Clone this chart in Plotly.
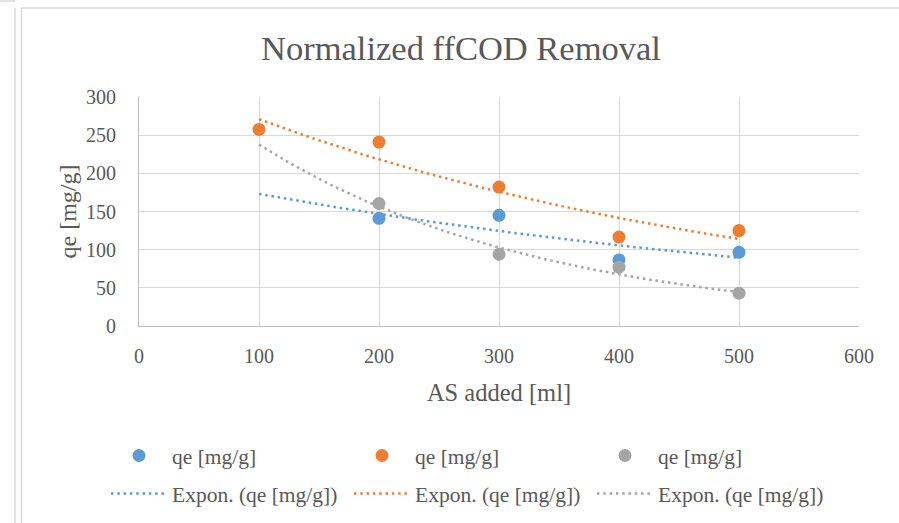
import numpy as np
import plotly.graph_objects as go

# ---- data ----
as_added = [100, 200, 300, 400, 500]
qe_blue = [None, 141, 145, 86.5, 96.5]
qe_orange = [257.5, 241, 182, 116.5, 125]
qe_gray = [None, 160.5, 94, 77, 43]

series_names = ["qe [mg/g]", "qe [mg/g]", "qe [mg/g]"]
trend_names = ["Expon. (qe [mg/g])", "Expon. (qe [mg/g])", "Expon. (qe [mg/g])"]
# exponential trendline equations y = a * exp(b * x)
trend_a = [204.0, 336.5, 361.5]
trend_b = [-0.0016476, -0.0021649, -0.004192]
trend_range = [100, 500]

x_ticks = [0, 100, 200, 300, 400, 500, 600]
y_ticks = [0, 50, 100, 150, 200, 250, 300]

colors = ["#5B9BD5", "#ED7D31", "#A5A5A5"]
FONT = "Liberation Serif"
TXT = "#595959"

W, H = 899, 523
L, R, T, B = 139, 40, 97, 197
PW, PH = W - L - R, H - T - B


def px_x(p):
    return (p - L) / PW


def px_y(p):
    return (H - B - p) / PH


fig = go.Figure()
for ys, c, n in zip([qe_blue, qe_orange, qe_gray], colors, series_names):
    fig.add_trace(go.Scatter(x=as_added, y=ys, mode="markers", name=n,
                             marker=dict(color=c, size=13),
                             legend="legend"))

xt = np.linspace(trend_range[0], trend_range[1], 81)
for a, b, c, n in zip(trend_a, trend_b, colors, trend_names):
    fig.add_trace(go.Scatter(x=xt, y=a * np.exp(b * xt), mode="lines", name=n,
                             line=dict(color=c, width=2.5, dash="2.5px,3.8px"),
                             legend="legend2", hoverinfo="skip"))

shapes = [
    dict(type="line", xref="paper", yref="paper", x0=px_x(21.5), x1=px_x(905),
         y0=px_y(8), y1=px_y(8), line=dict(color="#D9D9D9", width=1.5)),
    dict(type="line", xref="paper", yref="paper", x0=px_x(21.5), x1=px_x(21.5),
         y0=px_y(8), y1=px_y(530), line=dict(color="#D9D9D9", width=1.5)),
    dict(type="line", xref="paper", yref="paper", x0=px_x(15), x1=px_x(15),
         y0=px_y(8), y1=px_y(530), line=dict(color="#D9D9D9", width=1.5)),
    dict(type="line", xref="paper", yref="paper", x0=px_x(-5), x1=px_x(15),
         y0=px_y(1), y1=px_y(1), line=dict(color="#D9D9D9", width=1.5)),
]

fig.update_layout(
    width=W, height=H,
    margin=dict(l=L, r=R, t=T, b=B, autoexpand=False),
    paper_bgcolor="white", plot_bgcolor="white",
    font=dict(family=FONT, color=TXT),
    title=dict(text="Normalized ffCOD Removal", x=461 / W, xanchor="center",
               y=1 - 48 / H, yanchor="middle",
               font=dict(family=FONT, size=34.5, color=TXT)),
    xaxis=dict(range=[0, 600], tickvals=x_ticks, showgrid=True, gridcolor="#D9D9D9",
               gridwidth=1, showline=True, linecolor="#BFBFBF", linewidth=1,
               zeroline=False, ticks="", ticklabelstandoff=12, automargin=False,
               tickfont=dict(family=FONT, size=20, color=TXT),
               title=dict(text="AS added [ml]", standoff=17,
                          font=dict(family=FONT, size=24.5, color=TXT))),
    yaxis=dict(range=[0, 300], tickvals=y_ticks, showgrid=True, gridcolor="#D9D9D9",
               gridwidth=1, showline=True, linecolor="#BFBFBF", linewidth=1,
               zeroline=False, ticks="", ticklabelstandoff=18, automargin=False,
               tickfont=dict(family=FONT, size=20, color=TXT),
               title=dict(text="qe [mg/g]", standoff=2,
                          font=dict(family=FONT, size=24, color=TXT))),
    shapes=shapes,
    legend=dict(orientation="h", x=px_x(106), xanchor="left", y=px_y(435), yanchor="top",
                entrywidth=172, entrywidthmode="pixels", itemwidth=56,
                font=dict(family=FONT, size=21.5, color=TXT), bgcolor="rgba(0,0,0,0)"),
    legend2=dict(orientation="h", x=px_x(106), xanchor="left", y=px_y(473), yanchor="top",
                 entrywidth=172, entrywidthmode="pixels", itemwidth=56,
                 font=dict(family=FONT, size=21.5, color=TXT), bgcolor="rgba(0,0,0,0)"),
    showlegend=True,
)

fig.write_html("out.html")
